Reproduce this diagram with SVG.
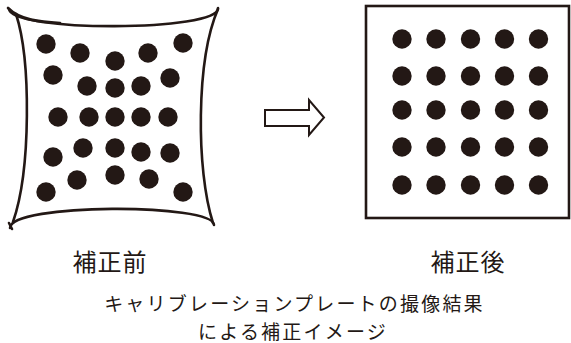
<svg xmlns="http://www.w3.org/2000/svg" width="571" height="343" viewBox="0 0 571 343">
<style>
.ln{fill:none;stroke:#231815;stroke-width:2.6;stroke-linecap:round}
.dot{fill:#231815}
.t{font-family:"Noto Sans CJK JP","Noto Sans CJK SC",sans-serif;fill:#231815;text-anchor:middle}
.lab{font-size:24px;letter-spacing:1px}
.cap{font-size:19px;letter-spacing:2.2px}
</style>
<rect width="571" height="343" fill="#fff"/>
<g id="before">
<path class="ln" d="M8,8 C20,20 40,22 60,23"/>
<path class="ln" d="M9,9 C10,32 220,32 218,8"/>
<path class="ln" d="M16,14 C31,60 31,170 13,222"/>
<path class="ln" d="M218,9 C196,60 196,170 213,223"/>
<path class="ln" d="M10,228 C10,203 214,203 214,225"/>
<path class="ln" d="M9,223 L12,229"/>
<g class="dot">
<circle cx="46" cy="44" r="9.7"/><circle cx="80" cy="53" r="9.7"/><circle cx="115" cy="61" r="9.7"/><circle cx="148" cy="53" r="9.7"/><circle cx="183" cy="43" r="9.7"/>
<circle cx="53" cy="75" r="9.7"/><circle cx="87" cy="86" r="9.7"/><circle cx="115" cy="88" r="9.7"/><circle cx="141" cy="86" r="9.7"/><circle cx="170" cy="78" r="9.7"/>
<circle cx="58" cy="117" r="9.7"/><circle cx="89" cy="117" r="9.7"/><circle cx="115" cy="117" r="9.7"/><circle cx="141" cy="117" r="9.7"/><circle cx="168" cy="117" r="9.7"/>
<circle cx="53" cy="157" r="9.7"/><circle cx="83" cy="148" r="9.7"/><circle cx="115" cy="148" r="9.7"/><circle cx="141" cy="152" r="9.7"/><circle cx="170" cy="153" r="9.7"/>
<circle cx="46" cy="192" r="9.7"/><circle cx="77" cy="180" r="9.7"/><circle cx="115" cy="175" r="9.7"/><circle cx="149" cy="179" r="9.7"/><circle cx="183" cy="192" r="9.7"/>
</g>
</g>
<g id="connectors">
<polygon points="265,110 309,110 309,100 324,117.5 309,135 309,126 265,126" fill="#fff" stroke="#231815" stroke-width="2" stroke-linejoin="miter"/>
</g>
<g id="after">
<rect x="366" y="6" width="203" height="212" fill="none" stroke="#231815" stroke-width="2.6"/>
<g class="dot">
<circle cx="402" cy="39" r="9.7"/><circle cx="436" cy="39" r="9.7"/><circle cx="470.5" cy="39" r="9.7"/><circle cx="504.5" cy="39" r="9.7"/><circle cx="538.5" cy="39" r="9.7"/>
<circle cx="402" cy="76" r="9.7"/><circle cx="436" cy="76" r="9.7"/><circle cx="470.5" cy="76" r="9.7"/><circle cx="504.5" cy="76" r="9.7"/><circle cx="538.5" cy="76" r="9.7"/>
<circle cx="402" cy="110" r="9.7"/><circle cx="436" cy="110" r="9.7"/><circle cx="470.5" cy="110" r="9.7"/><circle cx="504.5" cy="110" r="9.7"/><circle cx="538.5" cy="110" r="9.7"/>
<circle cx="402" cy="147" r="9.7"/><circle cx="436" cy="147" r="9.7"/><circle cx="470.5" cy="147" r="9.7"/><circle cx="504.5" cy="147" r="9.7"/><circle cx="538.5" cy="147" r="9.7"/>
<circle cx="402" cy="185" r="9.7"/><circle cx="436" cy="185" r="9.7"/><circle cx="470.5" cy="185" r="9.7"/><circle cx="504.5" cy="185" r="9.7"/><circle cx="538.5" cy="185" r="9.7"/>
</g>
</g>
<g id="labels">
<text class="t lab" x="110" y="271">補正前</text>
<text class="t lab" x="468" y="271">補正後</text>
<text class="t cap" x="294.5" y="311">キャリブレーションプレートの撮像結果</text>
<text class="t cap" x="293" y="339">による補正イメージ</text>
</g>
</svg>
